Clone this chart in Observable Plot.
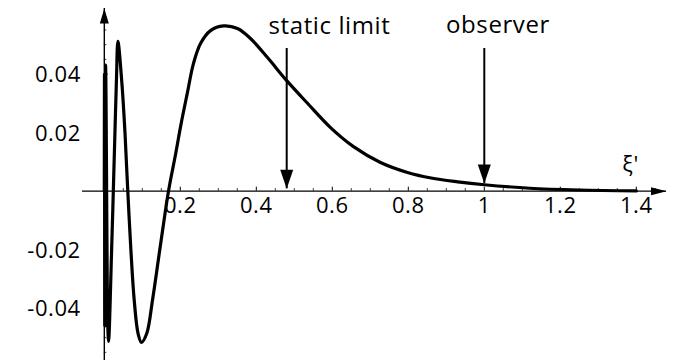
<!DOCTYPE html>
<html>
<head>
<meta charset="utf-8">
<script src="https://cdn.jsdelivr.net/npm/d3@7"></script>
<script src="https://cdn.jsdelivr.net/npm/@observablehq/plot@0.6"></script>
<style>
  body { margin: 0; background: #fff; }
</style>
</head>
<body>
<div id="chart"></div>
<script>
// Sampled response curve: position ξ' and amplitude
const curveX = [
  0.0000, 0.0002, 0.0005, 0.0008, 0.0013, 0.0019, 0.0024, 0.0034, 0.0045, 0.0058,
  0.0072, 0.0090, 0.0112, 0.0192, 0.0237, 0.0279, 0.0321, 0.0358, 0.0463, 0.0545,
  0.0618, 0.0700, 0.0787, 0.0889, 0.0979, 0.1116, 0.1268, 0.1458, 0.1689, 0.1874,
  0.2018, 0.2182, 0.2347, 0.2532, 0.2795, 0.3137, 0.3505, 0.3847, 0.4295, 0.4795,
  0.5347, 0.5953, 0.6558, 0.7268, 0.7979, 0.8600, 0.9300, 1.0000, 1.1200, 1.2500,
  1.4000
];
const curveY = [
  0.0000, 0.0250, 0.0400, 0.0100, -0.0460, -0.0280, 0.0100, 0.0430, 0.0320, 0.0060,
  -0.0220, -0.0450, -0.0513, -0.0202, 0.0000, 0.0197, 0.0388, 0.0511, 0.0368, 0.0197,
  0.0000, -0.0202, -0.0372, -0.0486, -0.0516, -0.0486, -0.0372, -0.0202, 0.0000, 0.0125,
  0.0228, 0.0333, 0.0436, 0.0504, 0.0548, 0.0564, 0.0555, 0.0521, 0.0456, 0.0378,
  0.0300, 0.0217, 0.0152, 0.0098, 0.0064, 0.0045, 0.0032, 0.0022, 0.0010, 0.0004,
  0.0001
];

// Axis extents (arrow tips) and ticks
const xExtent = [-0.0574, 1.4795];
const yExtent = [-0.0578, 0.06235];
const xTickValues = [0.2, 0.4, 0.6, 0.8, 1, 1.2, 1.4];
const xTickLabels = ["0.2", "0.4", "0.6", "0.8", "1", "1.2", "1.4"];
const xMinorTicks = [0.05, 0.1, 0.15, 0.25, 0.3, 0.35, 0.45, 0.5, 0.55, 0.65, 0.7, 0.75,
  0.85, 0.9, 0.95, 1.05, 1.1, 1.15, 1.25, 1.3, 1.35, 1.45];
const yTickValues = [-0.04, -0.02, 0.02, 0.04];
const yTickLabels = ["-0.04", "-0.02", "0.02", "0.04"];
const yMinorTicks = [-0.055, -0.05, -0.045, -0.035, -0.03, -0.025, -0.015, -0.01, -0.005,
  0.005, 0.01, 0.015, 0.025, 0.03, 0.035, 0.045, 0.05, 0.055];
const axisLabel = "ξ'";
const axisLabelPos = [1.385, 0.0091];

// Annotated positions
const annotationLabels = ["static limit", "observer"];
const annotationX = [0.48, 1.0];
const annotationTipY = [0.0008, 0.0026];
const annotationTailY = [0.0487, 0.0487];
const annotationTextX = [0.5926, 1.036];
const annotationTextY = [0.0562, 0.0566];

// Filled arrowheads with the tip at the symbol origin
const headDown = { draw(ctx) { ctx.moveTo(0, 0); ctx.lineTo(-6.5, -19); ctx.lineTo(6.5, -19); ctx.closePath(); } };
const headUp = { draw(ctx) { ctx.moveTo(0, 0); ctx.lineTo(-4.5, 15); ctx.lineTo(4.5, 15); ctx.closePath(); } };
const headRight = { draw(ctx) { ctx.moveTo(0, 0); ctx.lineTo(-15.5, -4); ctx.lineTo(-15.5, 4); ctx.closePath(); } };

const curve = curveX.map((x, i) => ({x, y: curveY[i]}));
const annotations = annotationLabels.map((label, i) => ({
  label, x: annotationX[i], tip: annotationTipY[i], tail: annotationTailY[i],
  tx: annotationTextX[i], ty: annotationTextY[i]
}));

const chart = Plot.plot({
  width: 684,
  height: 360,
  marginLeft: 82,
  marginRight: 18,
  marginTop: 8,
  marginBottom: 0,
  x: {domain: xExtent, axis: null},
  y: {domain: yExtent, axis: null},
  style: {fontFamily: "'Open Sans', sans-serif", fontSize: "22px", background: "white", color: "black", letterSpacing: "0.6px"},
  marks: [
    // axes through the origin
    Plot.ruleY([0], {stroke: "black", strokeWidth: 1.4}),
    Plot.ruleX([0], {stroke: "black", strokeWidth: 1.4}),
    Plot.dot([{x: xExtent[1], y: 0}], {x: "x", y: "y", symbol: headRight, fill: "black", stroke: "none"}),
    Plot.dot([{x: 0, y: yExtent[1]}], {x: "x", y: "y", symbol: headUp, fill: "black", stroke: "none"}),
    // tick marks pointing into the plot
    Plot.ruleX(xMinorTicks, {x: d => d, y1: 0, y2: 0, insetTop: -2.5, stroke: "black", strokeWidth: 0.8}),
    Plot.ruleX(xTickValues, {x: d => d, y1: 0, y2: 0, insetTop: -4, stroke: "black", strokeWidth: 1}),
    Plot.ruleY(yMinorTicks, {y: d => d, x1: 0, x2: 0, insetRight: -2.5, stroke: "black", strokeWidth: 0.8}),
    Plot.ruleY(yTickValues, {y: d => d, x1: 0, x2: 0, insetRight: -4, stroke: "black", strokeWidth: 1}),
    // tick labels
    Plot.text(xTickValues, {x: d => d, y: 0, text: (d, i) => xTickLabels[i], dy: 14.3, fontSize: 22, fill: "black"}),
    Plot.text(yTickValues, {x: 0, y: d => d, text: (d, i) => yTickLabels[i], textAnchor: "end", dx: -23.5, dy: 1, fontSize: 22, fill: "black"}),
    Plot.text([axisLabel], {x: axisLabelPos[0], y: axisLabelPos[1], text: d => d, fontSize: 22, fill: "black"}),
    // the curve
    Plot.line(curve, {x: "x", y: "y", curve: "catmull-rom", stroke: "black", strokeWidth: 3.2, strokeLinejoin: "round"}),
    // annotation arrows
    Plot.ruleX(annotations, {x: "x", y1: "tail", y2: "tip", stroke: "black", strokeWidth: 2}),
    Plot.dot(annotations, {x: "x", y: "tip", symbol: headDown, fill: "black", stroke: "none"}),
    Plot.text(annotations, {x: "tx", y: "ty", text: "label", fontSize: 24, fill: "black"})
  ]
});

document.getElementById("chart").appendChild(chart);
</script>
</body>
</html>
